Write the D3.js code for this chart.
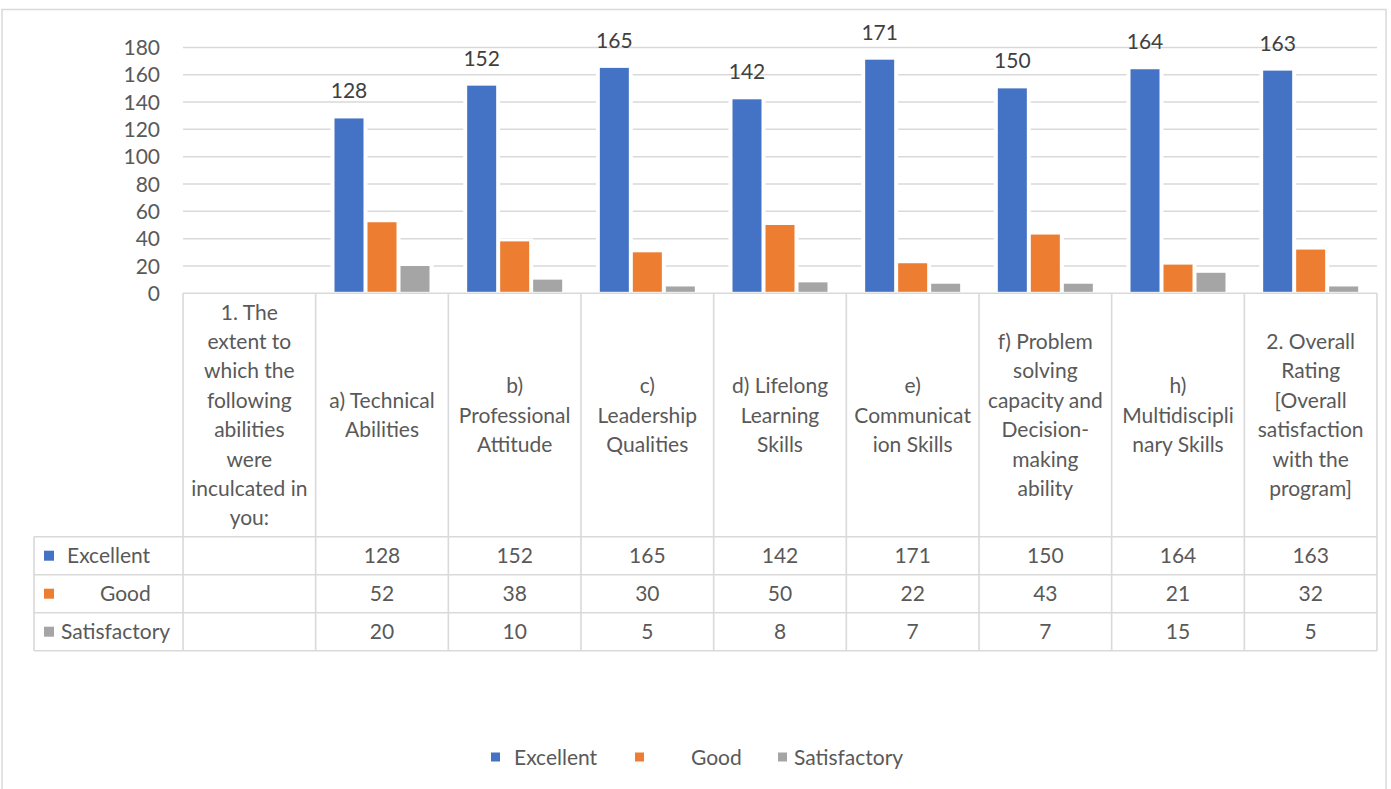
<!DOCTYPE html>
<html><head><meta charset="utf-8">
<script src="https://cdn.jsdelivr.net/npm/d3@7"></script>
<style>
html,body{margin:0;padding:0;background:#fff;}
svg{display:block;font-family:Lato,"Noto Sans",sans-serif;}
</style></head>
<body><svg id="chart" width="1391" height="789"></svg>
<script>
const categories = [
  ["1. The","extent to","which the","following","abilities","were","inculcated in","you:"],
  ["a) Technical","Abilities"],
  ["b)","Professional","Attitude"],
  ["c)","Leadership","Qualities"],
  ["d) Lifelong","Learning","Skills"],
  ["e)","Communicat","ion Skills"],
  ["f) Problem","solving","capacity and","Decision-","making","ability"],
  ["h)","Multidiscipli","nary Skills"],
  ["2. Overall","Rating","[Overall","satisfaction","with the","program]"]
];
const seriesNames = ["Excellent","Good","Satisfactory"];
const excellent = [null,128,152,165,142,171,150,164,163];
const good = [null,52,38,30,50,22,43,21,32];
const satisfactory = [null,20,10,5,8,7,7,15,5];
const yTicks = [0,20,40,60,80,100,120,140,160,180];
const colors = ["#4472C4","#ED7D31","#A5A5A5"];

const seriesValues = [excellent, good, satisfactory];
const svg = d3.select("#chart");
const plotL = 183, plotR = 1377, axisY = 293.3, topY = 47.4;
const tableLeft = 34;
const headerBottom = 536.7, rowH = 38;
const gridColor = "#d9d9d9";
const textColor = "#595959";
const FS = 21;

svg.append("rect").attr("x",2).attr("y",9.5).attr("width",1384).attr("height",800)
  .attr("fill","#fff").attr("stroke","#d9d9d9").attr("stroke-width",1.5);

const idx = categories.map((c,i)=>i);
const x = d3.scaleBand().domain(idx).range([plotL, plotR]).padding(0);
const y = d3.scaleLinear().domain([0,180]).range([axisY, topY]);
const groupW = 95;
const xs = d3.scaleBand().domain(d3.range(3)).range([0, groupW]).paddingInner(4/33);
const groupOff = (x.bandwidth() - groupW)/2;

svg.append("g").selectAll("line").data(yTicks.filter(t=>t>0)).join("line")
  .attr("x1",plotL).attr("x2",plotR).attr("y1",d=>y(d)).attr("y2",d=>y(d))
  .attr("stroke",gridColor).attr("stroke-width",1.5);

svg.append("g").selectAll("text").data(yTicks).join("text")
  .attr("x",160).attr("y",d=>y(d)).attr("dy","0.36em").attr("text-anchor","end")
  .attr("font-size",FS).attr("fill",textColor).text(d=>d);

const barData = [];
seriesValues.forEach((vals,s)=>vals.forEach((v,i)=>{ if(v!=null) barData.push({s,i,v}); }));
const bars = svg.append("g");
bars.selectAll("rect.bg").data(barData).join("rect").attr("class","bg")
  .attr("x",d=>x(d.i)+groupOff+xs(d.s)-4).attr("width",xs.bandwidth()+8)
  .attr("y",d=>y(d.v)-3).attr("height",d=>axisY-y(d.v)+3).attr("fill","#fff");
bars.selectAll("rect.bar").data(barData).join("rect").attr("class","bar")
  .attr("x",d=>x(d.i)+groupOff+xs(d.s)).attr("width",xs.bandwidth())
  .attr("y",d=>y(d.v)).attr("height",d=>axisY-y(d.v)-1.5).attr("fill",d=>colors[d.s]);

svg.append("g").selectAll("text").data(barData.filter(d=>d.s===0)).join("text")
  .attr("x",d=>x(d.i)+groupOff+xs(0)+xs.bandwidth()/2).attr("y",d=>y(d.v)-20)
  .attr("text-anchor","middle").attr("font-size",FS).attr("fill","#404040").text(d=>d.v);

const tg = svg.append("g").attr("stroke",gridColor).attr("stroke-width",1.6);
const tableBottom = headerBottom + rowH*3;
tg.append("line").attr("x1",plotL).attr("x2",plotR).attr("y1",axisY).attr("y2",axisY);
for(let r=0;r<=3;r++){
  const yy = headerBottom + r*rowH;
  tg.append("line").attr("x1",tableLeft).attr("x2",plotR).attr("y1",yy).attr("y2",yy);
}
idx.concat([idx.length]).forEach(i=>{
  const xx = i<idx.length ? x(i) : plotR;
  tg.append("line").attr("x1",xx).attr("x2",xx).attr("y1",axisY).attr("y2",tableBottom);
});
tg.append("line").attr("x1",tableLeft).attr("x2",tableLeft).attr("y1",headerBottom).attr("y2",tableBottom);

const lineH = 29.4;
const hc = (axisY + headerBottom)/2;
categories.forEach((lines,i)=>{
  const t = svg.append("text").attr("text-anchor","middle").attr("font-size",FS).attr("fill",textColor);
  const y0 = hc - (lines.length-1)*lineH/2;
  lines.forEach((ln,k)=>{
    t.append("tspan").attr("x",x(i)+x.bandwidth()/2).attr("y",y0+k*lineH).attr("dy","0.36em").text(ln);
  });
});

const legendTextX = [67,100,61];
seriesNames.forEach((name,s)=>{
  const cy = headerBottom + s*rowH + rowH/2;
  svg.append("rect").attr("x",44).attr("y",cy-5).attr("width",10).attr("height",10).attr("fill",colors[s]);
  svg.append("text").attr("x",legendTextX[s]).attr("y",cy).attr("dy","0.36em")
    .attr("font-size",FS).attr("fill",textColor).text(name);
  seriesValues[s].forEach((v,i)=>{
    if(v==null) return;
    svg.append("text").attr("x",x(i)+x.bandwidth()/2).attr("y",cy).attr("dy","0.36em")
      .attr("text-anchor","middle").attr("font-size",FS).attr("fill",textColor).text(v);
  });
});

const legendItems = [{mx:491,tx:514},{mx:635,tx:691},{mx:778,tx:794}];
legendItems.forEach((it,s)=>{
  svg.append("rect").attr("x",it.mx).attr("y",757-4.5).attr("width",9).attr("height",9).attr("fill",colors[s]);
  svg.append("text").attr("x",it.tx).attr("y",757).attr("dy","0.36em")
    .attr("font-size",FS).attr("fill",textColor).text(seriesNames[s]);
});
</script></body></html>
